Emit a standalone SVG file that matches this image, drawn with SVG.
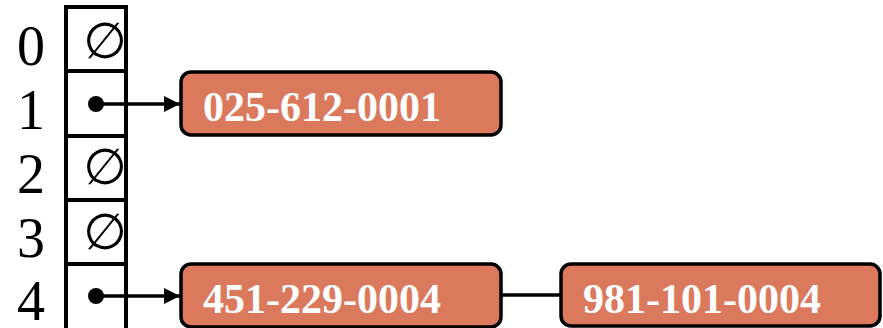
<svg xmlns="http://www.w3.org/2000/svg" width="883" height="328" viewBox="0 0 883 328">
<style>
.idx{font-family:"Liberation Serif","Times New Roman",serif;font-size:56px;fill:#000;text-anchor:middle}
.nil{font-family:"DejaVu Sans",sans-serif;font-size:50px;fill:#000;text-anchor:middle}
.cell{fill:#fff;stroke:#000;stroke-width:4}
.box{fill:#DB795D;stroke:#000;stroke-width:3.5}
.lbl{font-family:"Liberation Serif","Times New Roman",serif;font-size:42px;font-weight:bold;fill:#fff}
.ln{stroke:#000;stroke-width:3.5;fill:none}
</style>
<defs>
<marker id="arr" viewBox="0 0 16 16" refX="16" refY="8" markerWidth="16" markerHeight="16" markerUnits="userSpaceOnUse" orient="auto">
<path d="M0,0 L16,8 L0,16 Z" fill="#000"/>
</marker>
</defs>
<g id="table">
<rect class="cell" x="66" y="7" width="60" height="64"/>
<rect class="cell" x="66" y="71" width="60" height="65"/>
<rect class="cell" x="66" y="136" width="60" height="64"/>
<rect class="cell" x="66" y="200" width="60" height="64"/>
<rect class="cell" x="66" y="264" width="60" height="66"/>
<text class="idx" x="31" y="65">0</text>
<text class="idx" x="31" y="129">1</text>
<text class="idx" x="31" y="193">2</text>
<text class="idx" x="31" y="257">3</text>
<text class="idx" x="31" y="320">4</text>
<text class="nil" x="105" y="58">∅</text>
<text class="nil" x="105" y="184">∅</text>
<text class="nil" x="105" y="249">∅</text>
<circle cx="96" cy="104" r="8" fill="#000"/>
<circle cx="96" cy="296" r="8" fill="#000"/>
</g>
<g id="connectors">
<line class="ln" x1="96" y1="104" x2="180" y2="104" marker-end="url(#arr)"/>
<line class="ln" x1="96" y1="296" x2="180" y2="296" marker-end="url(#arr)"/>
<line class="ln" x1="501" y1="295" x2="561" y2="295"/>
</g>
<g id="node1">
<rect class="box" x="181" y="72" width="320" height="63" rx="10"/>
<text class="lbl" x="203" y="121">025-612-0001</text>
</g>
<g id="node2">
<rect class="box" x="181" y="264" width="320" height="63" rx="10"/>
<text class="lbl" x="203" y="313">451-229-0004</text>
</g>
<g id="node3">
<rect class="box" x="561" y="264" width="319" height="62" rx="10"/>
<text class="lbl" x="583" y="313">981-101-0004</text>
</g>
</svg>
